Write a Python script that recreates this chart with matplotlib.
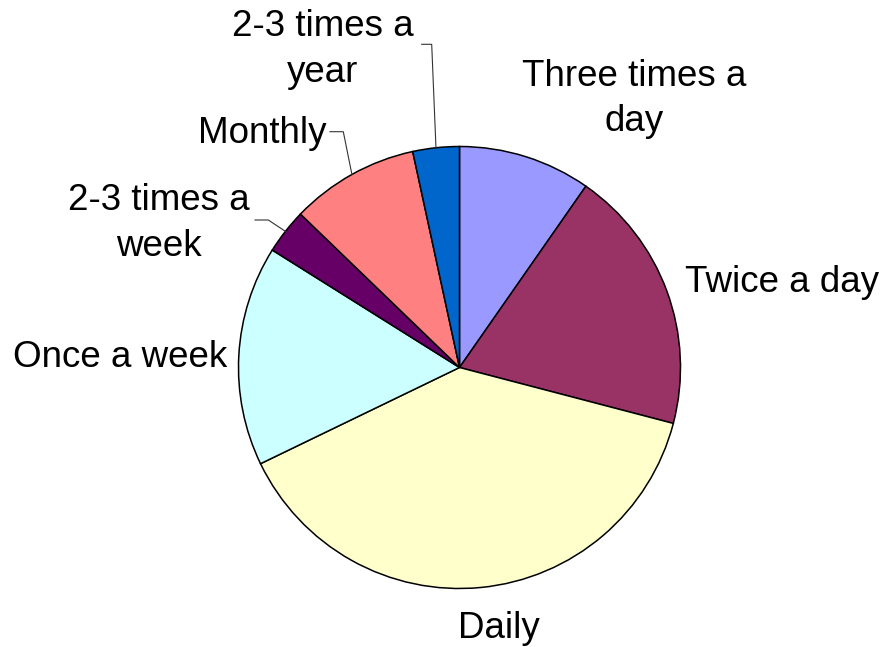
import numpy as np
import matplotlib
matplotlib.use("Agg")
import matplotlib.pyplot as plt

categories = ["Three times a day", "Twice a day", "Daily", "Once a week",
              "2-3 times a week", "Monthly", "2-3 times a year"]
values = [9.7, 19.4, 38.8, 16.1, 3.3, 9.4, 3.4]
label_texts = ["Three times a\nday", "Twice a day", "Daily", "Once a week",
               "2-3 times a\nweek", "Monthly", "2-3 times a\nyear"]
colors = ["#9999FF", "#993366", "#FFFFCC", "#CCFFFF", "#660066", "#FF8080", "#0066CC"]

W, H = 886, 647
CX, CY, R = 459.5, 367.5, 221.0

def px(x, y):
    return ((x - CX) / R, (CY - y) / R)

fig = plt.figure(figsize=(W / 100, H / 100), dpi=100)
ax = fig.add_axes([0, 0, 1, 1])

wedges, _ = ax.pie(values, colors=colors, startangle=90, counterclock=False,
                   radius=1.0, center=(0, 0), frame=True,
                   wedgeprops=dict(edgecolor="black", linewidth=1.1))
ax.set_xlim(-CX / R, (W - CX) / R)
ax.set_ylim((CY - H) / R, CY / R)
ax.set_aspect("equal")
ax.axis("off")

font = dict(family=["Liberation Sans", "DejaVu Sans"], fontsize=26.5, color="black")

# text centers (pixel layout)
text_pos = {
    "Three times a day": (634, 99),
    "Twice a day": (782, 282),
    "Daily": (499, 628),
    "Once a week": (120, 357),
    "2-3 times a week": (159, 223.5),
    "Monthly": (262, 133),
    "2-3 times a year": (323, 49.5),
}
# leader lines: (elbow px, end px of horizontal part)
leaders = {
    "2-3 times a week": ((268.3, 220), (255, 220)),
    "Monthly": ((343.3, 131.7), (330, 131.7)),
    "2-3 times a year": ((431.7, 44.3), (421.7, 44.3)),
}

for w, cat, txt in zip(wedges, categories, label_texts):
    tx, ty = px(*text_pos[cat])
    ax.text(tx, ty, txt, ha="center", va="center", linespacing=1.38, **font)
    if cat in leaders:
        mid = np.deg2rad((w.theta1 + w.theta2) / 2)
        ex, ey = np.cos(mid), np.sin(mid)
        (e1x, e1y), (e2x, e2y) = px(*leaders[cat][0]), px(*leaders[cat][1])
        ax.plot([ex, e1x, e2x], [ey, e1y, e2y], color="#333333", lw=0.8,
                solid_joinstyle="miter")

fig.savefig("out.png", dpi=100)
